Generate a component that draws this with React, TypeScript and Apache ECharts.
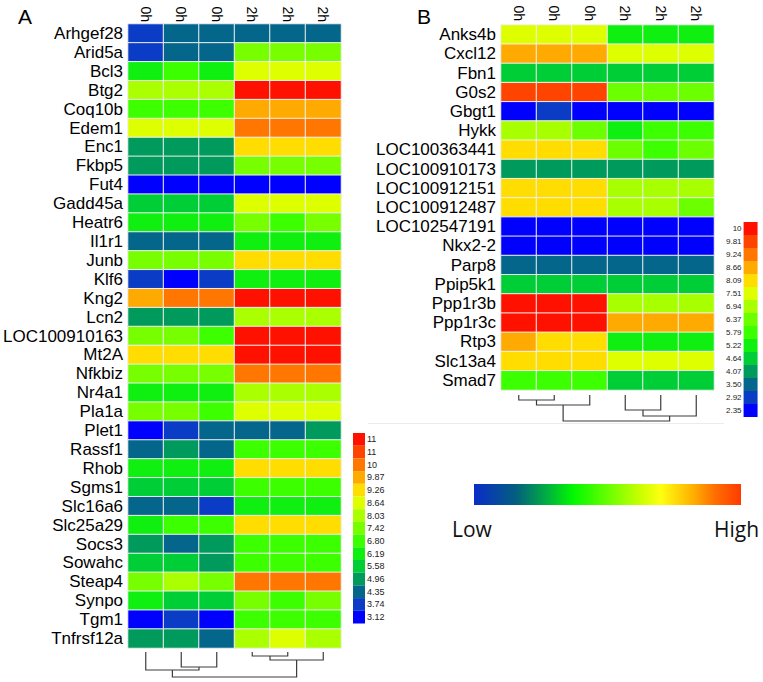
import React, { useEffect, useRef } from 'react';
import * as echarts from 'echarts';

const FONT = '"Liberation Sans", Arial, sans-serif';

const columns = ['0h', '0h', '0h', '2h', '2h', '2h'];

const genesA = [
  'Arhgef28', 'Arid5a', 'Bcl3', 'Btg2', 'Coq10b', 'Edem1', 'Enc1', 'Fkbp5', 'Fut4', 'Gadd45a',
  'Heatr6', 'Il1r1', 'Junb', 'Klf6', 'Kng2', 'Lcn2', 'LOC100910163', 'Mt2A', 'Nfkbiz', 'Nr4a1',
  'Pla1a', 'Plet1', 'Rassf1', 'Rhob', 'Sgms1', 'Slc16a6', 'Slc25a29', 'Socs3', 'Sowahc', 'Steap4',
  'Synpo', 'Tgm1', 'Tnfrsf12a',
];

const valuesA = [
  [4.0, 4.6, 4.6, 4.6, 4.6, 4.6],
  [4.0, 4.6, 4.6, 7.7, 7.7, 7.7],
  [6.5, 7.1, 6.5, 8.9, 8.9, 8.9],
  [8.3, 8.3, 8.3, 12.0, 12.0, 12.0],
  [7.1, 7.1, 7.1, 10.2, 10.2, 10.2],
  [8.9, 8.9, 8.9, 10.8, 10.8, 10.8],
  [5.3, 5.3, 5.3, 9.5, 9.5, 9.5],
  [5.3, 5.3, 5.3, 7.7, 7.7, 7.7],
  [3.4, 3.4, 3.4, 3.4, 3.4, 3.4],
  [5.9, 5.9, 5.9, 8.9, 8.9, 8.9],
  [6.5, 6.5, 6.5, 7.7, 7.1, 7.7],
  [4.6, 4.6, 4.6, 6.5, 6.5, 6.5],
  [7.7, 7.7, 7.7, 9.5, 9.5, 9.5],
  [4.0, 3.4, 4.0, 6.5, 6.5, 6.5],
  [10.2, 10.8, 10.8, 12.0, 12.0, 12.0],
  [5.3, 5.3, 5.3, 8.3, 8.3, 8.3],
  [7.7, 7.7, 7.1, 12.0, 12.0, 12.0],
  [9.5, 9.5, 9.5, 12.0, 12.0, 12.0],
  [7.7, 7.7, 7.7, 10.8, 10.8, 10.8],
  [6.5, 6.5, 6.5, 8.3, 8.3, 8.3],
  [7.7, 7.7, 7.1, 8.9, 8.9, 8.9],
  [3.4, 4.0, 4.6, 4.6, 4.6, 5.3],
  [4.6, 5.3, 4.6, 7.1, 7.1, 7.1],
  [6.5, 6.5, 6.5, 9.5, 9.5, 9.5],
  [5.9, 5.9, 5.9, 7.1, 7.1, 7.1],
  [4.6, 4.6, 4.0, 6.5, 6.5, 6.5],
  [6.5, 7.1, 7.1, 9.5, 9.5, 9.5],
  [5.3, 4.6, 5.3, 7.1, 7.1, 7.1],
  [5.9, 5.9, 5.3, 7.1, 7.1, 7.1],
  [7.7, 8.3, 7.7, 10.8, 10.8, 10.8],
  [6.5, 5.9, 5.9, 7.7, 7.1, 7.7],
  [3.4, 4.0, 3.4, 7.1, 7.1, 7.1],
  [5.3, 5.3, 4.6, 8.3, 8.9, 8.3],
];

const genesB = [
  'Anks4b', 'Cxcl12', 'Fbn1', 'G0s2', 'Gbgt1', 'Hykk', 'LOC100363441', 'LOC100910173',
  'LOC100912151', 'LOC100912487', 'LOC102547191', 'Nkx2-2', 'Parp8', 'Ppip5k1', 'Ppp1r3b',
  'Ppp1r3c', 'Rtp3', 'Slc13a4', 'Smad7',
];

const valuesB = [
  [7.8, 7.8, 7.8, 5.5, 5.5, 5.5],
  [8.9, 8.9, 8.9, 7.8, 7.8, 7.8],
  [4.9, 4.9, 4.9, 4.9, 4.9, 4.9],
  [10.1, 10.1, 10.1, 6.6, 6.6, 6.6],
  [2.6, 3.2, 2.6, 2.6, 2.6, 2.6],
  [7.2, 7.2, 6.6, 5.5, 6.1, 6.1],
  [8.4, 8.4, 8.4, 6.6, 6.1, 6.6],
  [4.3, 4.3, 4.3, 4.3, 4.3, 4.3],
  [8.4, 8.4, 8.4, 7.2, 7.2, 7.2],
  [8.4, 8.4, 8.4, 7.2, 7.2, 6.6],
  [2.6, 2.6, 2.6, 2.6, 2.6, 2.6],
  [2.6, 2.6, 2.6, 2.6, 2.6, 2.6],
  [3.8, 3.8, 3.8, 3.8, 3.8, 3.8],
  [4.9, 4.9, 4.9, 4.9, 4.9, 4.9],
  [10.6, 10.6, 10.6, 7.2, 7.2, 7.2],
  [10.6, 10.6, 10.6, 8.9, 8.9, 8.9],
  [8.9, 8.4, 8.4, 5.5, 5.5, 5.5],
  [8.4, 8.4, 8.4, 7.8, 7.8, 7.8],
  [6.1, 6.1, 6.1, 4.9, 4.9, 4.9],
];

// legend bins (low -> high)
const edgesA = [3.12, 3.74, 4.35, 4.96, 5.58, 6.19, 6.8, 7.42, 8.03, 8.64, 9.26, 9.87, 10.49, 11.1, 11.72, 12.4];
const labelsA = ['3.12', '3.74', '4.35', '4.96', '5.58', '6.19', '6.80', '7.42', '8.03', '8.64', '9.26', '9.87', '10', '11', '11'];
const edgesB = [2.35, 2.92, 3.5, 4.07, 4.64, 5.22, 5.79, 6.37, 6.94, 7.51, 8.09, 8.66, 9.24, 9.81, 10.38, 11.0];
const labelsB = ['2.35', '2.92', '3.50', '4.07', '4.64', '5.22', '5.79', '6.37', '6.94', '7.51', '8.09', '8.66', '9.24', '9.81', '10'];

// dendrograms: [leftX, rightX, leftChildHeight, rightChildHeight, mergeHeight]
const dendroA = [
  [1, 2, 0, 0, 15],
  [0, 1.5, 0, 15, 18],
  [3, 4, 0, 0, 4],
  [3.5, 5, 4, 0, 8],
  [0.75, 4.25, 18, 8, 25],
];
const dendroB = [
  [0, 1, 0, 0, 5],
  [0.5, 2, 5, 0, 10],
  [3, 4, 0, 0, 15],
  [3.5, 5, 15, 0, 21],
  [1.25, 4.25, 10, 21, 26],
];

const paletteA = ['#0000FF', '#0B3CC6', '#03668A', '#009A5C', '#00CE36', '#10F010', '#3CFF00', '#77FF00', '#AAFF00', '#DDFF00', '#FFDD00', '#FFAA00', '#FF7600', '#FF4400', '#FF1100'];
const paletteB = ['#0000FF', '#0B3CC6', '#03668A', '#009A5C', '#00CE36', '#10F010', '#3CFF00', '#6CFF00', '#A8FF00', '#DDFF00', '#FFDD00', '#FFAA00', '#FF7600', '#FF4400', '#FF1100'];

const gradientColors = ['#0A2CC8', '#03607E', '#00B43C', '#00F800', '#66FF00', '#C8FF00', '#FFFF10', '#FFB000', '#FF7000', '#FF3A00'];
const gradientOffsets = [0, 0.16, 0.28, 0.37, 0.5, 0.62, 0.7, 0.82, 0.9, 1];

function toCells(values: number[][]) {
  const out: number[][] = [];
  values.forEach((row, r) => row.forEach((v, c) => out.push([c, r, v])));
  return out;
}

function pieces(edges: number[], labels: string[], palette: string[]) {
  return labels.map((lab, i) => ({ min: edges[i], max: edges[i + 1], label: lab, color: palette[i] }));
}

const renderDendro = (params: any, api: any) => {
  const xl = api.value(0), xr = api.value(1), hl = api.value(2), hr = api.value(3), hm = api.value(4);
  const pts = [api.coord([xl, hl]), api.coord([xl, hm]), api.coord([xr, hm]), api.coord([xr, hr])];
  return {
    type: 'polyline',
    shape: { points: pts },
    style: { stroke: '#3c3c3c', fill: null, lineWidth: 1.2 },
  };
};

export default function App() {
  const ref = useRef<HTMLDivElement>(null);
  useEffect(() => {
    if (!ref.current) return;
    const chart = echarts.init(ref.current, null, { renderer: 'svg' });
    const catX = (gi: number, margin: number) => ({
      type: 'category', gridIndex: gi, data: columns, position: 'top',
      axisLine: { show: false }, axisTick: { show: false }, splitLine: { show: false },
      axisLabel: { rotate: 90, fontSize: 14, color: '#000', margin, interval: 0, fontFamily: FONT },
    });
    const catY = (gi: number, data: string[]) => ({
      type: 'category', gridIndex: gi, data, inverse: true,
      axisLine: { show: false }, axisTick: { show: false }, splitLine: { show: false },
      axisLabel: { fontSize: 17, color: '#000', margin: 5, interval: 0, fontFamily: FONT },
    });
    const legend = (si: number, left: number, top: number, w: number, h: number, fs: number, ps: any[]) => ({
      type: 'piecewise', seriesIndex: si, orient: 'vertical', left, top,
      itemWidth: w, itemHeight: h, itemGap: 0, textGap: 2, padding: 0,
      itemSymbol: 'rect', selectedMode: false, hoverLink: false,
      textStyle: { fontSize: fs, color: '#222', fontFamily: FONT },
      pieces: ps,
    });
    const option: any = {
      animation: false,
      backgroundColor: '#ffffff',
      textStyle: { fontFamily: FONT },
      grid: [
        { left: 128, top: 24, width: 213, height: 624 },
        { left: 501, top: 25, width: 213, height: 365 },
        { left: 128, top: 652, width: 213, height: 25 },
        { left: 501, top: 395, width: 213, height: 26 },
      ],
      xAxis: [
        catX(0, 2), catX(1, 4),
        { type: 'value', gridIndex: 2, min: -0.5, max: 5.5, show: false, splitLine: { show: false } },
        { type: 'value', gridIndex: 3, min: -0.5, max: 5.5, show: false, splitLine: { show: false } },
      ],
      yAxis: [
        catY(0, genesA), catY(1, genesB),
        { type: 'value', gridIndex: 2, min: 0, max: 25, inverse: true, show: false, splitLine: { show: false } },
        { type: 'value', gridIndex: 3, min: 0, max: 26, inverse: true, show: false, splitLine: { show: false } },
      ],
      visualMap: [
        legend(0, 353, 433, 12, 12.7, 9, pieces(edgesA, labelsA, paletteA)),
        legend(1, 726, 222, 14, 13, 8, pieces(edgesB, labelsB, paletteB)),
      ],
      series: [
        {
          type: 'heatmap', xAxisIndex: 0, yAxisIndex: 0, data: toCells(valuesA),
          itemStyle: { borderColor: '#f0f0f0', borderWidth: 1 }, emphasis: { disabled: true },
        },
        {
          type: 'heatmap', xAxisIndex: 1, yAxisIndex: 1, data: toCells(valuesB),
          itemStyle: { borderColor: '#f0f0f0', borderWidth: 1 }, emphasis: { disabled: true },
        },
        { type: 'custom', xAxisIndex: 2, yAxisIndex: 2, data: dendroA, renderItem: renderDendro, silent: true },
        { type: 'custom', xAxisIndex: 3, yAxisIndex: 3, data: dendroB, renderItem: renderDendro, silent: true },
      ],
      graphic: [
        { type: 'line', shape: { x1: 368, y1: 423.5, x2: 724, y2: 423.5 }, style: { stroke: '#ececec', lineWidth: 1 }, silent: true },
        { type: 'text', x: 18, y: 16, style: { text: 'A', font: `21px ${FONT}`, fill: '#000', verticalAlign: 'middle' } },
        { type: 'text', x: 417, y: 16, style: { text: 'B', font: `21px ${FONT}`, fill: '#000', verticalAlign: 'middle' } },
        {
          type: 'rect', shape: { x: 474, y: 484, width: 267, height: 21 },
          style: {
            fill: {
              type: 'linear', x: 0, y: 0, x2: 1, y2: 0,
              colorStops: gradientColors.map((c, i) => ({ offset: gradientOffsets[i], color: c })),
            },
          },
          silent: true,
        },
        { type: 'text', x: 452, y: 529, style: { text: 'Low', font: '21px "Open Sans", sans-serif', fill: '#111', verticalAlign: 'middle' } },
        { type: 'text', x: 714, y: 529, style: { text: 'High', font: '21px "Open Sans", sans-serif', fill: '#111', verticalAlign: 'middle' } },
      ],
    };
    chart.setOption(option);
    return () => chart.dispose();
  }, []);
  return <div ref={ref} style={{ position: 'fixed', left: 0, top: 0, width: 763, height: 682, background: '#fff' }} />;
}
